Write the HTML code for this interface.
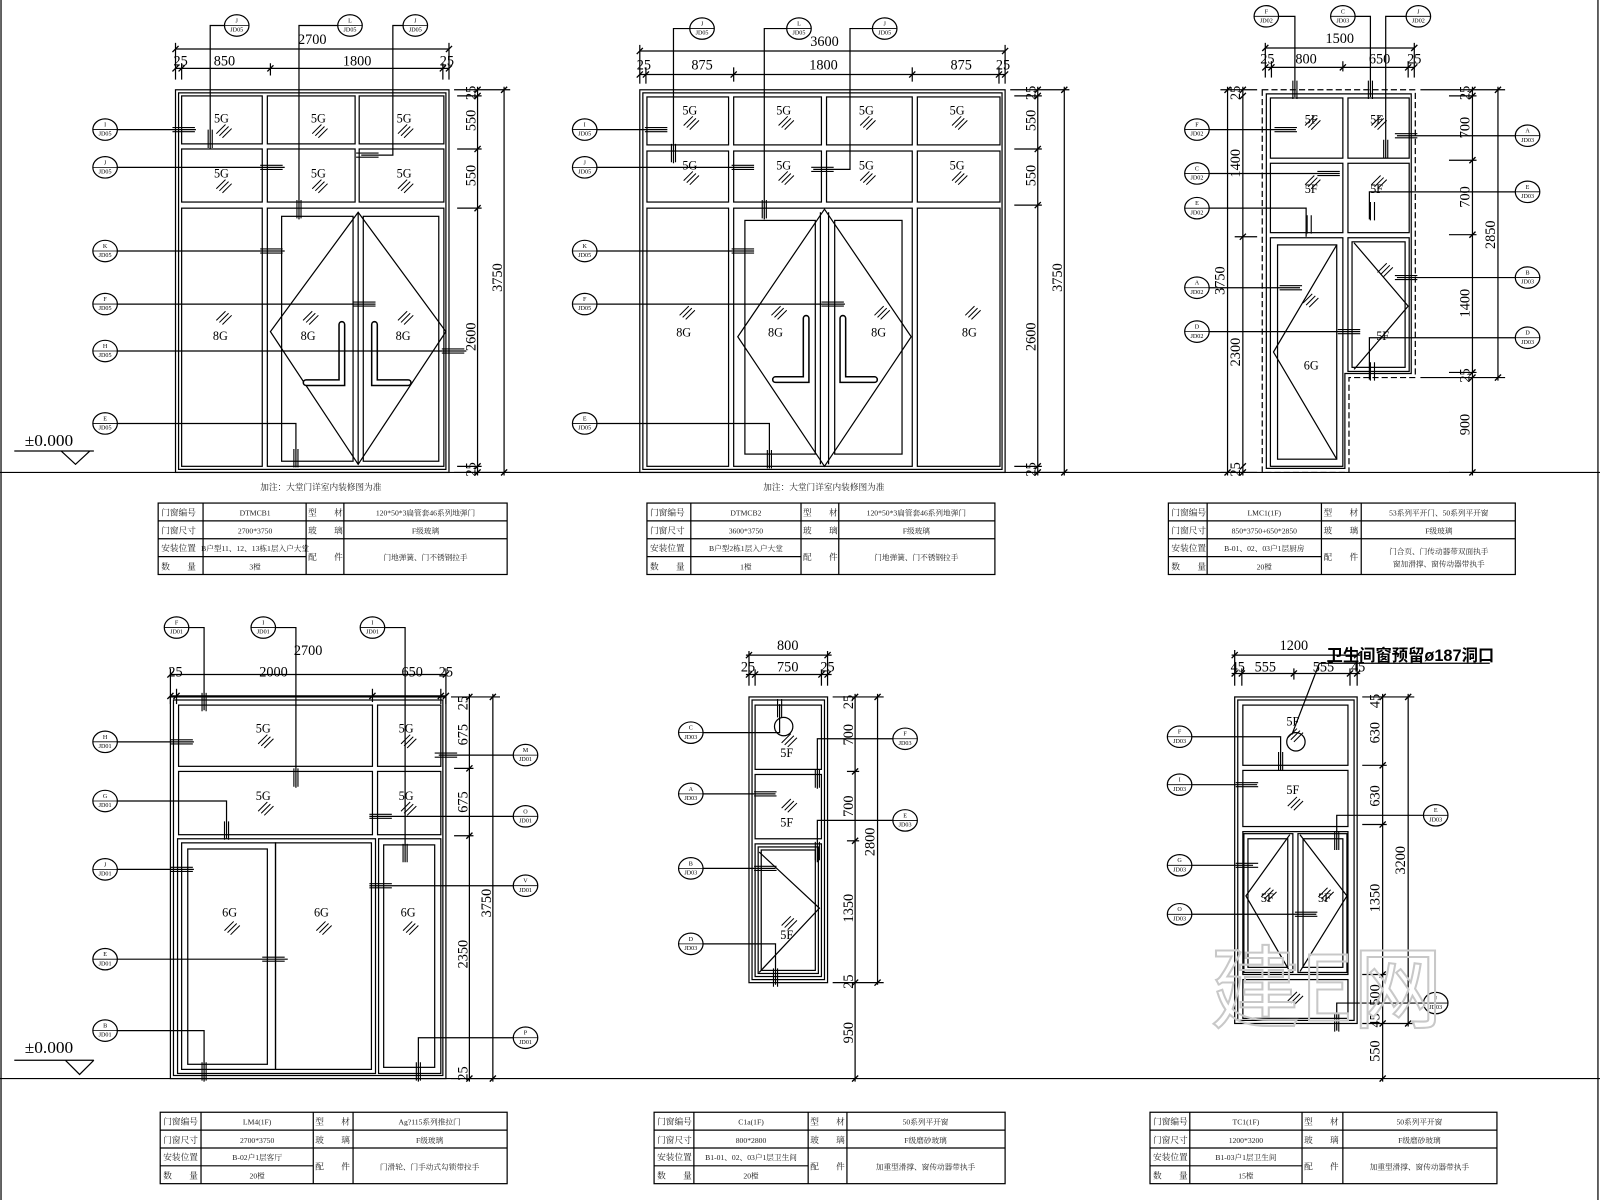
<!DOCTYPE html>
<html><head><meta charset="utf-8">
<style>
html,body{margin:0;padding:0;background:#fff;}
svg{display:block;}
.l{stroke:#000;stroke-width:1.2;fill:none;}
.d{font-family:"Liberation Serif","Noto Serif CJK SC",serif;font-size:14px;fill:#000;text-anchor:middle;}
.g{font-family:"Liberation Serif",serif;font-size:12px;fill:#000;text-anchor:middle;}
.b{font-family:"Liberation Serif",serif;font-size:6px;fill:#000;text-anchor:middle;}
.tb{font-family:"Liberation Serif","Noto Serif CJK SC",serif;font-size:7.5px;fill:#222;text-anchor:middle;}
.tl{font-family:"Liberation Serif","Noto Serif CJK SC",serif;font-size:8.5px;fill:#222;}
</style></head><body>
<svg width="1600" height="1200" viewBox="0 0 1568 1176" xmlns="http://www.w3.org/2000/svg">
<defs>
<g id="bb"><ellipse cx="0" cy="0" rx="12" ry="10.5" fill="#fff" stroke="#000" stroke-width="1.2"/><line x1="-12" y1="0" x2="12" y2="0" stroke="#000" stroke-width="0.8"/></g>
<g id="h" stroke="#000" stroke-width="1"><path d="M0 9 L9 0 M3 11 L12 2 M6 13 L15 4"/></g>
<g id="mh" stroke="#000" stroke-width="1.1"><path d="M-11 -2 H11 M-11 2 H11"/></g>
<g id="mv" stroke="#000" stroke-width="1.1"><path d="M-2 -9 V9 M2 -9 V9"/></g>
<g id="tk" stroke="#000" stroke-width="1.3"><path d="M-3 3 L3 -3"/></g>
</defs>
<rect width="1568" height="1176" fill="#fff"/>
<g class="l">
<line x1="1" y1="0" x2="1" y2="1176"/><line x1="1566" y1="0" x2="1566" y2="1176"/>
<line x1="0" y1="463" x2="1568" y2="463"/><line x1="0" y1="1057" x2="1568" y2="1057"/>
</g>

<!-- ================= DRAWING 1 ================= -->
<g class="l">
<rect x="172" y="88" width="268" height="375"/><rect x="175" y="91" width="262" height="369"/>
<rect x="178" y="94" width="79" height="47"/><rect x="262" y="94" width="86" height="47"/><rect x="352" y="94" width="83" height="47"/>
<rect x="178" y="146" width="79" height="52"/><rect x="262" y="146" width="86" height="52"/><rect x="352" y="146" width="83" height="52"/>
<rect x="178" y="204" width="79" height="253"/><rect x="262" y="204" width="173" height="253"/>
<rect x="276" y="212" width="70" height="240"/><rect x="356" y="212" width="74" height="240"/>
<line x1="351" y1="208" x2="351" y2="455"/>
<path d="M351 208 L265 325 L351 455 L437 325 Z"/>
</g>
<path d="M335 318 V375 H300 M367 318 V375 H400" stroke="#000" stroke-width="7" fill="none" stroke-linecap="round"/>
<path d="M335 318 V375 H300 M367 318 V375 H400" stroke="#fff" stroke-width="4" fill="none" stroke-linecap="round"/>
<text class="g" x="217" y="120">5G</text><text class="g" x="312" y="120">5G</text><text class="g" x="396" y="120">5G</text>
<text class="g" x="217" y="174">5G</text><text class="g" x="312" y="174">5G</text><text class="g" x="396" y="174">5G</text>
<text class="g" x="216" y="333">8G</text><text class="g" x="302" y="333">8G</text><text class="g" x="395" y="333">8G</text>
<use href="#h" x="212" y="122"/><use href="#h" x="306" y="122"/><use href="#h" x="390" y="122"/>
<use href="#h" x="212" y="176"/><use href="#h" x="306" y="176"/><use href="#h" x="390" y="176"/>
<use href="#h" x="212" y="305"/><use href="#h" x="297" y="305"/><use href="#h" x="390" y="305"/>
<g class="l">
<line x1="172" y1="48" x2="440" y2="48"/><line x1="172" y1="67" x2="440" y2="67"/>
<line x1="172" y1="42" x2="172" y2="78"/><line x1="178" y1="62" x2="178" y2="78"/><line x1="265" y1="62" x2="265" y2="74"/><line x1="434" y1="62" x2="434" y2="78"/><line x1="440" y1="42" x2="440" y2="78"/>
<line x1="468" y1="85" x2="468" y2="466"/><line x1="494" y1="85" x2="494" y2="466"/>
<line x1="445" y1="88" x2="500" y2="88"/><line x1="448" y1="94" x2="472" y2="94"/><line x1="448" y1="146" x2="472" y2="146"/><line x1="448" y1="204" x2="472" y2="204"/><line x1="448" y1="457" x2="472" y2="457"/><line x1="445" y1="463" x2="500" y2="463"/>
</g>
<use href="#tk" x="172" y="48"/><use href="#tk" x="440" y="48"/><use href="#tk" x="172" y="67"/><use href="#tk" x="178" y="67"/><use href="#tk" x="265" y="67"/><use href="#tk" x="434" y="67"/><use href="#tk" x="440" y="67"/>
<use href="#tk" x="468" y="88"/><use href="#tk" x="468" y="94"/><use href="#tk" x="468" y="146"/><use href="#tk" x="468" y="204"/><use href="#tk" x="468" y="457"/><use href="#tk" x="468" y="463"/><use href="#tk" x="494" y="88"/><use href="#tk" x="494" y="463"/>
<text class="d" x="306" y="43">2700</text><text class="d" x="177" y="64">25</text><text class="d" x="220" y="64">850</text><text class="d" x="350" y="64">1800</text><text class="d" x="438" y="64">25</text>
<text class="d" transform="rotate(-90 466 91)" x="466" y="91">25</text>
<text class="d" transform="rotate(-90 466 118)" x="466" y="118">550</text>
<text class="d" transform="rotate(-90 466 172)" x="466" y="172">550</text>
<text class="d" transform="rotate(-90 466 330)" x="466" y="330">2600</text>
<text class="d" transform="rotate(-90 466 460)" x="466" y="460">25</text>
<text class="d" transform="rotate(-90 492 272)" x="492" y="272">3750</text>
<g class="l">
<path d="M115 127 H192"/><path d="M115 164 H279"/><path d="M115 246 H279"/><path d="M115 298 H368"/><path d="M115 344 H457"/><path d="M115 415 H290 V458"/>
<path d="M220 25 H206 V146"/><path d="M331 25 H293 V215"/><path d="M395 25 H385 V152 H354"/>
</g>
<use href="#mh" x="180" y="127"/><use href="#mh" x="266" y="164"/><use href="#mh" x="266" y="246"/><use href="#mh" x="357" y="298"/><use href="#mh" x="444" y="344"/><use href="#mv" x="290" y="449"/>
<use href="#mv" x="206" y="136"/><use href="#mv" x="293" y="205"/><use href="#mh" x="360" y="152"/>
<use href="#bb" x="103" y="127"/><text class="b" x="103" y="124">I</text><text class="b" x="103" y="133">JD05</text>
<use href="#bb" x="103" y="164"/><text class="b" x="103" y="161">J</text><text class="b" x="103" y="170">JD05</text>
<use href="#bb" x="103" y="246"/><text class="b" x="103" y="243">K</text><text class="b" x="103" y="252">JD05</text>
<use href="#bb" x="103" y="298"/><text class="b" x="103" y="295">F</text><text class="b" x="103" y="304">JD05</text>
<use href="#bb" x="103" y="344"/><text class="b" x="103" y="341">H</text><text class="b" x="103" y="350">JD05</text>
<use href="#bb" x="103" y="415"/><text class="b" x="103" y="412">E</text><text class="b" x="103" y="421">JD05</text>
<use href="#bb" x="232" y="25"/><text class="b" x="232" y="22">J</text><text class="b" x="232" y="31">JD05</text>
<use href="#bb" x="343" y="25"/><text class="b" x="343" y="22">L</text><text class="b" x="343" y="31">JD05</text>
<use href="#bb" x="407" y="25"/><text class="b" x="407" y="22">J</text><text class="b" x="407" y="31">JD05</text>
<text class="d" x="48" y="437" style="font-size:17px">±0.000</text>
<path class="l" d="M14 442 H92 M60 442 L74 455 L88 442"/>
<text class="tl" x="255" y="480">加注：大堂门详室内装修图为准</text>
<g class="l"><rect x="155" y="493" width="342" height="70"/><path d="M155 510.5 H497 M155 528 H497 M155 545.5 H300 M199 493 V563 M300 493 V563 M337 493 V563 M300 528 H497"/></g>
<text class="tl" x="158" y="505">门窗编号</text><text class="tl" x="158" y="523">门窗尺寸</text><text class="tl" x="158" y="540">安装位置</text><text class="tl" x="158" y="558">数　　量</text>
<text class="tb" x="250" y="505">DTMCB1</text><text class="tb" x="250" y="523">2700*3750</text><text class="tb" x="250" y="540">B户型11、12、13栋1层入户大堂</text><text class="tb" x="250" y="558">3樘</text>
<text class="tl" x="302" y="505">型　　材</text><text class="tl" x="302" y="523">玻　　璃</text><text class="tl" x="302" y="549">配　　件</text>
<text class="tb" x="417" y="505">120*50*3扁管套46系列地弹门</text><text class="tb" x="417" y="523">F级玻璃</text><text class="tb" x="417" y="549">门地弹簧、门不锈钢拉手</text>

<!-- ================= DRAWING 2 ================= -->
<g class="l">
<rect x="627" y="88" width="358" height="375"/><rect x="630" y="91" width="352" height="369"/>
<rect x="634" y="95" width="80" height="47"/><rect x="719" y="95" width="86" height="47"/><rect x="810" y="95" width="84" height="47"/><rect x="899" y="95" width="81" height="47"/>
<rect x="634" y="148" width="80" height="50"/><rect x="719" y="148" width="86" height="50"/><rect x="810" y="148" width="84" height="50"/><rect x="899" y="148" width="81" height="50"/>
<rect x="634" y="204" width="80" height="253"/><rect x="719" y="204" width="175" height="253"/><rect x="899" y="204" width="81" height="253"/>
<rect x="730" y="216" width="69" height="229"/><rect x="818" y="216" width="66" height="229"/>
<line x1="804" y1="208" x2="804" y2="455"/><line x1="812" y1="208" x2="812" y2="455"/>
<path d="M808 205 L723 330 L808 457 L893 330 Z"/>
</g>
<path d="M790 312 V372 H760 M826 312 V372 H857" stroke="#000" stroke-width="7" fill="none" stroke-linecap="round"/>
<path d="M790 312 V372 H760 M826 312 V372 H857" stroke="#fff" stroke-width="4" fill="none" stroke-linecap="round"/>
<text class="g" x="676" y="112">5G</text><text class="g" x="768" y="112">5G</text><text class="g" x="849" y="112">5G</text><text class="g" x="938" y="112">5G</text>
<text class="g" x="676" y="166">5G</text><text class="g" x="768" y="166">5G</text><text class="g" x="849" y="166">5G</text><text class="g" x="938" y="166">5G</text>
<text class="g" x="670" y="330">8G</text><text class="g" x="760" y="330">8G</text><text class="g" x="861" y="330">8G</text><text class="g" x="950" y="330">8G</text>
<use href="#h" x="670" y="114"/><use href="#h" x="763" y="114"/><use href="#h" x="843" y="114"/><use href="#h" x="933" y="114"/>
<use href="#h" x="670" y="168"/><use href="#h" x="763" y="168"/><use href="#h" x="843" y="168"/><use href="#h" x="933" y="168"/>
<use href="#h" x="666" y="300"/><use href="#h" x="756" y="300"/><use href="#h" x="857" y="300"/><use href="#h" x="946" y="300"/>
<g class="l">
<line x1="627" y1="50" x2="985" y2="50"/><line x1="627" y1="73" x2="985" y2="73"/>
<line x1="627" y1="44" x2="627" y2="82"/><line x1="633" y1="66" x2="633" y2="82"/><line x1="719" y1="66" x2="719" y2="80"/><line x1="894" y1="66" x2="894" y2="80"/><line x1="979" y1="66" x2="979" y2="82"/><line x1="985" y1="44" x2="985" y2="82"/>
<line x1="1017" y1="85" x2="1017" y2="466"/><line x1="1043" y1="85" x2="1043" y2="466"/>
<line x1="990" y1="88" x2="1048" y2="88"/><line x1="994" y1="94" x2="1021" y2="94"/><line x1="994" y1="146" x2="1021" y2="146"/><line x1="994" y1="201" x2="1021" y2="201"/><line x1="994" y1="457" x2="1021" y2="457"/><line x1="990" y1="463" x2="1048" y2="463"/>
</g>
<use href="#tk" x="627" y="50"/><use href="#tk" x="985" y="50"/><use href="#tk" x="627" y="73"/><use href="#tk" x="633" y="73"/><use href="#tk" x="719" y="73"/><use href="#tk" x="894" y="73"/><use href="#tk" x="979" y="73"/><use href="#tk" x="985" y="73"/>
<use href="#tk" x="1017" y="88"/><use href="#tk" x="1017" y="94"/><use href="#tk" x="1017" y="146"/><use href="#tk" x="1017" y="201"/><use href="#tk" x="1017" y="457"/><use href="#tk" x="1017" y="463"/><use href="#tk" x="1043" y="88"/><use href="#tk" x="1043" y="463"/>
<text class="d" x="808" y="45">3600</text><text class="d" x="631" y="68">25</text><text class="d" x="688" y="68">875</text><text class="d" x="807" y="68">1800</text><text class="d" x="942" y="68">875</text><text class="d" x="983" y="68">25</text>
<text class="d" transform="rotate(-90 1015 91)" x="1015" y="91">25</text>
<text class="d" transform="rotate(-90 1015 118)" x="1015" y="118">550</text>
<text class="d" transform="rotate(-90 1015 172)" x="1015" y="172">550</text>
<text class="d" transform="rotate(-90 1015 330)" x="1015" y="330">2600</text>
<text class="d" transform="rotate(-90 1015 460)" x="1015" y="460">25</text>
<text class="d" transform="rotate(-90 1041 272)" x="1041" y="272">3750</text>
<g class="l">
<path d="M585 127 H654"/><path d="M585 164 H739"/><path d="M585 246 H739"/><path d="M585 298 H828"/><path d="M585 415 H754 V459"/>
<path d="M676 28 H660 V160"/><path d="M771 28 H749 V215"/><path d="M855 28 H833 V166 H797"/>
</g>
<use href="#mh" x="643" y="127"/><use href="#mh" x="728" y="164"/><use href="#mh" x="728" y="246"/><use href="#mh" x="816" y="298"/><use href="#mv" x="754" y="450"/>
<use href="#mv" x="660" y="150"/><use href="#mv" x="749" y="205"/><use href="#mh" x="806" y="166"/>
<use href="#bb" x="573" y="127"/><text class="b" x="573" y="124">I</text><text class="b" x="573" y="133">JD05</text>
<use href="#bb" x="573" y="164"/><text class="b" x="573" y="161">J</text><text class="b" x="573" y="170">JD05</text>
<use href="#bb" x="573" y="246"/><text class="b" x="573" y="243">K</text><text class="b" x="573" y="252">JD05</text>
<use href="#bb" x="573" y="298"/><text class="b" x="573" y="295">F</text><text class="b" x="573" y="304">JD05</text>
<use href="#bb" x="573" y="415"/><text class="b" x="573" y="412">E</text><text class="b" x="573" y="421">JD05</text>
<use href="#bb" x="688" y="28"/><text class="b" x="688" y="25">J</text><text class="b" x="688" y="34">JD05</text>
<use href="#bb" x="783" y="28"/><text class="b" x="783" y="25">L</text><text class="b" x="783" y="34">JD05</text>
<use href="#bb" x="867" y="28"/><text class="b" x="867" y="25">J</text><text class="b" x="867" y="34">JD05</text>
<text class="tl" x="748" y="480">加注：大堂门详室内装修图为准</text>
<g class="l"><rect x="634" y="493" width="341" height="70"/><path d="M634 510.5 H975 M634 528 H975 M634 545.5 H785 M677 493 V563 M785 493 V563 M822 493 V563 M785 528 H975"/></g>
<text class="tl" x="637" y="505">门窗编号</text><text class="tl" x="637" y="523">门窗尺寸</text><text class="tl" x="637" y="540">安装位置</text><text class="tl" x="637" y="558">数　　量</text>
<text class="tb" x="731" y="505">DTMCB2</text><text class="tb" x="731" y="523">3600*3750</text><text class="tb" x="731" y="540">B户型2栋1层入户大堂</text><text class="tb" x="731" y="558">1樘</text>
<text class="tl" x="787" y="505">型　　材</text><text class="tl" x="787" y="523">玻　　璃</text><text class="tl" x="787" y="549">配　　件</text>
<text class="tb" x="898" y="505">120*50*3扁管套46系列地弹门</text><text class="tb" x="898" y="523">F级玻璃</text><text class="tb" x="898" y="549">门地弹簧、门不锈钢拉手</text>

<!-- ================= DRAWING 3 ================= -->
<g class="l">
<path d="M1237 88 H1387 V370 H1322 V463 H1237 Z" stroke-dasharray="6 3"/>
<path d="M1241 92 H1383 V366 H1318 V459 H1241 Z"/>
<rect x="1245" y="96" width="71" height="59"/><rect x="1321" y="96" width="60" height="59"/>
<rect x="1245" y="160" width="71" height="68"/><rect x="1321" y="160" width="60" height="68"/>
<rect x="1245" y="233" width="71" height="224"/><rect x="1252" y="240" width="58" height="210"/>
<path d="M1310 240 L1248 345 L1310 450"/>
<rect x="1321" y="233" width="60" height="131"/><rect x="1325" y="237" width="52" height="123"/>
<path d="M1327 238 L1380 300 L1327 362"/>
</g>
<text class="g" x="1285" y="121">5F</text><text class="g" x="1349" y="121">5F</text><text class="g" x="1285" y="189">5F</text><text class="g" x="1349" y="189">5F</text>
<text class="g" x="1285" y="362">6G</text><text class="g" x="1355" y="333">5F</text>
<use href="#h" x="1279" y="114"/><use href="#h" x="1344" y="114"/><use href="#h" x="1279" y="172"/><use href="#h" x="1344" y="172"/><use href="#h" x="1277" y="288"/><use href="#h" x="1350" y="258"/>
<g class="l">
<line x1="1240" y1="47" x2="1386" y2="47"/><line x1="1240" y1="66" x2="1386" y2="66"/>
<line x1="1240" y1="42" x2="1240" y2="76"/><line x1="1246" y1="60" x2="1246" y2="76"/><line x1="1316" y1="60" x2="1316" y2="70"/><line x1="1380" y1="60" x2="1380" y2="76"/><line x1="1386" y1="42" x2="1386" y2="76"/>
<line x1="1203" y1="85" x2="1203" y2="466"/><line x1="1218" y1="85" x2="1218" y2="466"/>
<line x1="1196" y1="88" x2="1232" y2="88"/><line x1="1210" y1="232" x2="1232" y2="232"/><line x1="1196" y1="463" x2="1232" y2="463"/>
<line x1="1443" y1="85" x2="1443" y2="466"/><line x1="1468" y1="85" x2="1468" y2="373"/>
<line x1="1392" y1="88" x2="1475" y2="88"/><line x1="1420" y1="94" x2="1447" y2="94"/><line x1="1420" y1="157" x2="1447" y2="157"/><line x1="1420" y1="230" x2="1447" y2="230"/><line x1="1420" y1="365" x2="1447" y2="365"/><line x1="1392" y1="370" x2="1475" y2="370"/><line x1="1420" y1="463" x2="1447" y2="463"/>
</g>
<use href="#tk" x="1240" y="47"/><use href="#tk" x="1386" y="47"/><use href="#tk" x="1240" y="66"/><use href="#tk" x="1246" y="66"/><use href="#tk" x="1316" y="66"/><use href="#tk" x="1380" y="66"/><use href="#tk" x="1386" y="66"/>
<use href="#tk" x="1218" y="88"/><use href="#tk" x="1218" y="94"/><use href="#tk" x="1218" y="232"/><use href="#tk" x="1218" y="457"/><use href="#tk" x="1218" y="463"/><use href="#tk" x="1203" y="88"/><use href="#tk" x="1203" y="463"/>
<use href="#tk" x="1443" y="88"/><use href="#tk" x="1443" y="94"/><use href="#tk" x="1443" y="157"/><use href="#tk" x="1443" y="230"/><use href="#tk" x="1443" y="365"/><use href="#tk" x="1443" y="370"/><use href="#tk" x="1443" y="463"/><use href="#tk" x="1468" y="88"/><use href="#tk" x="1468" y="370"/>
<text class="d" x="1313" y="42">1500</text><text class="d" x="1242" y="62">25</text><text class="d" x="1280" y="62">800</text><text class="d" x="1352" y="62">650</text><text class="d" x="1386" y="62">25</text>
<text class="d" transform="rotate(-90 1215 91)" x="1215" y="91">25</text>
<text class="d" transform="rotate(-90 1215 160)" x="1215" y="160">1400</text>
<text class="d" transform="rotate(-90 1215 345)" x="1215" y="345">2300</text>
<text class="d" transform="rotate(-90 1215 460)" x="1215" y="460">25</text>
<text class="d" transform="rotate(-90 1200 275)" x="1200" y="275">3750</text>
<text class="d" transform="rotate(-90 1440 91)" x="1440" y="91">25</text>
<text class="d" transform="rotate(-90 1440 125)" x="1440" y="125">700</text>
<text class="d" transform="rotate(-90 1440 193)" x="1440" y="193">700</text>
<text class="d" transform="rotate(-90 1440 297)" x="1440" y="297">1400</text>
<text class="d" transform="rotate(-90 1440 368)" x="1440" y="368">25</text>
<text class="d" transform="rotate(-90 1440 416)" x="1440" y="416">900</text>
<text class="d" transform="rotate(-90 1465 230)" x="1465" y="230">2850</text>
<g class="l">
<path d="M1185 127 H1270"/><path d="M1185 170 H1313"/><path d="M1185 204 H1280 V232"/><path d="M1185 282 H1274"/><path d="M1185 325 H1333"/>
<path d="M1253 16 H1269 V95"/><path d="M1328 16 H1343 V95"/><path d="M1378 16 H1358 V155"/>
<path d="M1485 133 H1369"/><path d="M1485 188 H1342 V215"/><path d="M1485 272 H1369"/><path d="M1485 331 H1342 V372"/>
</g>
<use href="#mh" x="1260" y="127"/><use href="#mh" x="1302" y="170"/><use href="#mv" x="1283" y="220"/><use href="#mh" x="1265" y="282"/><use href="#mh" x="1322" y="325"/>
<use href="#mv" x="1269" y="88"/><use href="#mv" x="1343" y="88"/><use href="#mv" x="1358" y="146"/>
<use href="#mh" x="1378" y="133"/><use href="#mv" x="1345" y="207"/><use href="#mh" x="1378" y="272"/><use href="#mv" x="1345" y="364"/>
<use href="#bb" x="1173" y="127"/><text class="b" x="1173" y="124">F</text><text class="b" x="1173" y="133">JD02</text>
<use href="#bb" x="1173" y="170"/><text class="b" x="1173" y="167">C</text><text class="b" x="1173" y="176">JD02</text>
<use href="#bb" x="1173" y="204"/><text class="b" x="1173" y="201">E</text><text class="b" x="1173" y="210">JD02</text>
<use href="#bb" x="1173" y="282"/><text class="b" x="1173" y="279">A</text><text class="b" x="1173" y="288">JD02</text>
<use href="#bb" x="1173" y="325"/><text class="b" x="1173" y="322">D</text><text class="b" x="1173" y="331">JD02</text>
<use href="#bb" x="1241" y="16"/><text class="b" x="1241" y="13">F</text><text class="b" x="1241" y="22">JD02</text>
<use href="#bb" x="1316" y="16"/><text class="b" x="1316" y="13">C</text><text class="b" x="1316" y="22">JD03</text>
<use href="#bb" x="1390" y="16"/><text class="b" x="1390" y="13">J</text><text class="b" x="1390" y="22">JD02</text>
<use href="#bb" x="1497" y="133"/><text class="b" x="1497" y="130">A</text><text class="b" x="1497" y="139">JD03</text>
<use href="#bb" x="1497" y="188"/><text class="b" x="1497" y="185">E</text><text class="b" x="1497" y="194">JD03</text>
<use href="#bb" x="1497" y="272"/><text class="b" x="1497" y="269">B</text><text class="b" x="1497" y="278">JD03</text>
<use href="#bb" x="1497" y="331"/><text class="b" x="1497" y="328">D</text><text class="b" x="1497" y="337">JD03</text>
<g class="l"><rect x="1145" y="493" width="340" height="70"/><path d="M1145 510.5 H1485 M1145 528 H1485 M1145 545.5 H1295 M1183 493 V563 M1295 493 V563 M1334 493 V563 M1295 528 H1485"/></g>
<text class="tl" x="1148" y="505">门窗编号</text><text class="tl" x="1148" y="523">门窗尺寸</text><text class="tl" x="1148" y="540">安装位置</text><text class="tl" x="1148" y="558">数　　量</text>
<text class="tb" x="1239" y="505">LMC1(1F)</text><text class="tb" x="1239" y="523">850*3750+650*2850</text><text class="tb" x="1239" y="540">B-01、02、03户1层厨房</text><text class="tb" x="1239" y="558">20樘</text>
<text class="tl" x="1297" y="505">型　　材</text><text class="tl" x="1297" y="523">玻　　璃</text><text class="tl" x="1297" y="549">配　　件</text>
<text class="tb" x="1410" y="505">53系列平开门、50系列平开窗</text><text class="tb" x="1410" y="523">F级玻璃</text><text class="tb" x="1410" y="543">门合页、门传动器带双面执手</text><text class="tb" x="1410" y="555">窗加滑撑、窗传动器带执手</text>

<!-- ================= DRAWING 4 ================= -->
<g class="l">
<rect x="167" y="683" width="270" height="374"/><rect x="170" y="686" width="264" height="368"/>
<rect x="175" y="691" width="190" height="60"/><rect x="370" y="691" width="62" height="60"/>
<rect x="175" y="756" width="190" height="62"/><rect x="370" y="756" width="62" height="62"/>
<rect x="174" y="822" width="194" height="230"/><rect x="371" y="822" width="61" height="230"/>
<rect x="178" y="826" width="92" height="222"/><rect x="184" y="832" width="78" height="211"/>
<rect x="270" y="826" width="94" height="222"/><rect x="376" y="828" width="50" height="218"/>
</g>
<text class="g" x="258" y="718">5G</text><text class="g" x="398" y="718">5G</text><text class="g" x="258" y="784">5G</text><text class="g" x="398" y="784">5G</text>
<text class="g" x="225" y="898">6G</text><text class="g" x="315" y="898">6G</text><text class="g" x="400" y="898">6G</text>
<use href="#h" x="253" y="720"/><use href="#h" x="393" y="720"/><use href="#h" x="253" y="786"/><use href="#h" x="393" y="786"/>
<use href="#h" x="220" y="903"/><use href="#h" x="310" y="903"/><use href="#h" x="395" y="903"/>
<g class="l">
<line x1="167" y1="661" x2="437" y2="661"/><line x1="167" y1="682" x2="437" y2="682"/>
<line x1="167" y1="655" x2="167" y2="690"/><line x1="173" y1="675" x2="173" y2="690"/><line x1="365" y1="675" x2="365" y2="688"/><line x1="432" y1="675" x2="432" y2="690"/><line x1="437" y1="655" x2="437" y2="690"/>
<line x1="460" y1="680" x2="460" y2="1060"/><line x1="483" y1="680" x2="483" y2="1060"/>
<line x1="442" y1="683" x2="490" y2="683"/><line x1="445" y1="753" x2="464" y2="753"/><line x1="445" y1="819" x2="464" y2="819"/><line x1="442" y1="1057" x2="490" y2="1057"/>
</g>
<use href="#tk" x="167" y="661"/><use href="#tk" x="437" y="661"/><use href="#tk" x="167" y="682"/><use href="#tk" x="173" y="682"/><use href="#tk" x="365" y="682"/><use href="#tk" x="432" y="682"/><use href="#tk" x="437" y="682"/>
<use href="#tk" x="460" y="683"/><use href="#tk" x="460" y="753"/><use href="#tk" x="460" y="819"/><use href="#tk" x="460" y="1057"/><use href="#tk" x="483" y="683"/><use href="#tk" x="483" y="1057"/>
<text class="d" x="302" y="642">2700</text><text class="d" x="172" y="663">25</text><text class="d" x="268" y="663">2000</text><text class="d" x="404" y="663">650</text><text class="d" x="437" y="663">25</text>
<text class="d" transform="rotate(-90 458 689)" x="458" y="689">25</text>
<text class="d" transform="rotate(-90 458 720)" x="458" y="720">675</text>
<text class="d" transform="rotate(-90 458 786)" x="458" y="786">675</text>
<text class="d" transform="rotate(-90 458 935)" x="458" y="935">2350</text>
<text class="d" transform="rotate(-90 458 1052)" x="458" y="1052">25</text>
<text class="d" transform="rotate(-90 481 885)" x="481" y="885">3750</text>
<g class="l">
<path d="M115 727 H190"/><path d="M115 785 H222 V822"/><path d="M115 852 H190"/><path d="M115 940 H282"/><path d="M115 1010 H200 V1060"/>
<path d="M185 615 H200 V696"/><path d="M270 615 H290 V772"/><path d="M377 615 H397 V845"/>
<path d="M503 740 H430"/><path d="M503 800 H362"/><path d="M503 868 H362"/><path d="M503 1017 H410 V1060"/>
</g>
<use href="#mh" x="178" y="727"/><use href="#mv" x="222" y="814"/><use href="#mh" x="178" y="852"/><use href="#mh" x="268" y="940"/><use href="#mv" x="200" y="1050"/>
<use href="#mv" x="200" y="688"/><use href="#mv" x="290" y="762"/><use href="#mv" x="397" y="836"/>
<use href="#mh" x="437" y="740"/><use href="#mh" x="373" y="800"/><use href="#mh" x="373" y="868"/><use href="#mv" x="410" y="1050"/>
<use href="#bb" x="103" y="727"/><text class="b" x="103" y="724">H</text><text class="b" x="103" y="733">JD01</text>
<use href="#bb" x="103" y="785"/><text class="b" x="103" y="782">G</text><text class="b" x="103" y="791">JD01</text>
<use href="#bb" x="103" y="852"/><text class="b" x="103" y="849">J</text><text class="b" x="103" y="858">JD01</text>
<use href="#bb" x="103" y="940"/><text class="b" x="103" y="937">E</text><text class="b" x="103" y="946">JD01</text>
<use href="#bb" x="103" y="1010"/><text class="b" x="103" y="1007">B</text><text class="b" x="103" y="1016">JD01</text>
<use href="#bb" x="173" y="615"/><text class="b" x="173" y="612">F</text><text class="b" x="173" y="621">JD01</text>
<use href="#bb" x="258" y="615"/><text class="b" x="258" y="612">I</text><text class="b" x="258" y="621">JD01</text>
<use href="#bb" x="365" y="615"/><text class="b" x="365" y="612">I</text><text class="b" x="365" y="621">JD01</text>
<use href="#bb" x="515" y="740"/><text class="b" x="515" y="737">M</text><text class="b" x="515" y="746">JD01</text>
<use href="#bb" x="515" y="800"/><text class="b" x="515" y="797">O</text><text class="b" x="515" y="806">JD01</text>
<use href="#bb" x="515" y="868"/><text class="b" x="515" y="865">V</text><text class="b" x="515" y="874">JD01</text>
<use href="#bb" x="515" y="1017"/><text class="b" x="515" y="1014">P</text><text class="b" x="515" y="1023">JD01</text>
<text class="d" x="48" y="1032" style="font-size:17px">±0.000</text>
<path class="l" d="M14 1039 H92 M64 1039 L78 1053 L92 1039"/>
<g class="l"><rect x="157" y="1090" width="340" height="70"/><path d="M157 1107.5 H497 M157 1125 H497 M157 1142.5 H307 M197 1090 V1160 M307 1090 V1160 M346 1090 V1160 M307 1125 H497"/></g>
<text class="tl" x="160" y="1102">门窗编号</text><text class="tl" x="160" y="1120">门窗尺寸</text><text class="tl" x="160" y="1137">安装位置</text><text class="tl" x="160" y="1155">数　　量</text>
<text class="tb" x="252" y="1102">LM4(1F)</text><text class="tb" x="252" y="1120">2700*3750</text><text class="tb" x="252" y="1137">B-02户1层客厅</text><text class="tb" x="252" y="1155">20樘</text>
<text class="tl" x="309" y="1102">型　　材</text><text class="tl" x="309" y="1120">玻　　璃</text><text class="tl" x="309" y="1146">配　　件</text>
<text class="tb" x="421" y="1102">Ag?115系列推拉门</text><text class="tb" x="421" y="1120">F级玻璃</text><text class="tb" x="421" y="1146">门滑轮、门手动式勾锁带拉手</text>

<!-- ================= DRAWING 5 ================= -->
<g class="l">
<rect x="734" y="683" width="77" height="280"/><rect x="737" y="686" width="71" height="274"/>
<rect x="740" y="691" width="65" height="63"/><rect x="740" y="759" width="65" height="63"/>
<rect x="740" y="827" width="65" height="130"/><rect x="743" y="830" width="59" height="124"/><rect x="746" y="833" width="53" height="118"/>
<path d="M744 835 L803 890 L744 953"/>
<circle cx="768" cy="712" r="9"/>
</g>
<text class="g" x="771" y="742">5F</text><text class="g" x="771" y="810">5F</text><text class="g" x="771" y="920">5F</text>
<use href="#h" x="766" y="719"/><use href="#h" x="766" y="783"/><use href="#h" x="766" y="898"/>
<g class="l">
<line x1="731" y1="642" x2="815" y2="642"/><line x1="731" y1="661" x2="815" y2="661"/>
<line x1="734" y1="638" x2="734" y2="672"/><line x1="740" y1="656" x2="740" y2="672"/><line x1="805" y1="656" x2="805" y2="672"/><line x1="811" y1="638" x2="811" y2="672"/>
<line x1="838" y1="680" x2="838" y2="1060"/><line x1="860" y1="680" x2="860" y2="965"/>
<line x1="816" y1="683" x2="866" y2="683"/><line x1="830" y1="756" x2="842" y2="756"/><line x1="830" y1="824" x2="842" y2="824"/><line x1="816" y1="963" x2="866" y2="963"/>
</g>
<use href="#tk" x="734" y="642"/><use href="#tk" x="811" y="642"/><use href="#tk" x="734" y="661"/><use href="#tk" x="740" y="661"/><use href="#tk" x="805" y="661"/><use href="#tk" x="811" y="661"/>
<use href="#tk" x="838" y="683"/><use href="#tk" x="838" y="756"/><use href="#tk" x="838" y="824"/><use href="#tk" x="838" y="963"/><use href="#tk" x="838" y="1057"/><use href="#tk" x="860" y="683"/><use href="#tk" x="860" y="963"/>
<text class="d" x="772" y="637">800</text><text class="d" x="733" y="658">25</text><text class="d" x="772" y="658">750</text><text class="d" x="811" y="658">25</text>
<text class="d" transform="rotate(-90 836 688)" x="836" y="688">25</text>
<text class="d" transform="rotate(-90 836 720)" x="836" y="720">700</text>
<text class="d" transform="rotate(-90 836 790)" x="836" y="790">700</text>
<text class="d" transform="rotate(-90 836 890)" x="836" y="890">1350</text>
<text class="d" transform="rotate(-90 836 962)" x="836" y="962">25</text>
<text class="d" transform="rotate(-90 836 1012)" x="836" y="1012">950</text>
<text class="d" transform="rotate(-90 857 825)" x="857" y="825">2800</text>
<g class="l">
<path d="M689 718 H764 V690"/><path d="M689 778 H760"/><path d="M689 851 H760"/><path d="M689 925 H760 V965"/>
<path d="M875 724 H801 V773"/><path d="M875 804 H801 V845"/>
</g>
<use href="#mv" x="764" y="694"/><use href="#mh" x="750" y="778"/><use href="#mh" x="750" y="851"/><use href="#mv" x="760" y="958"/>
<use href="#mv" x="801" y="763"/><use href="#mv" x="801" y="834"/>
<use href="#bb" x="677" y="718"/><text class="b" x="677" y="715">C</text><text class="b" x="677" y="724">JD03</text>
<use href="#bb" x="677" y="778"/><text class="b" x="677" y="775">A</text><text class="b" x="677" y="784">JD03</text>
<use href="#bb" x="677" y="851"/><text class="b" x="677" y="848">B</text><text class="b" x="677" y="857">JD03</text>
<use href="#bb" x="677" y="925"/><text class="b" x="677" y="922">D</text><text class="b" x="677" y="931">JD03</text>
<use href="#bb" x="887" y="724"/><text class="b" x="887" y="721">F</text><text class="b" x="887" y="730">JD03</text>
<use href="#bb" x="887" y="804"/><text class="b" x="887" y="801">E</text><text class="b" x="887" y="810">JD03</text>
<g class="l"><rect x="641" y="1090" width="344" height="70"/><path d="M641 1107.5 H985 M641 1125 H985 M641 1142.5 H792 M680 1090 V1160 M792 1090 V1160 M830 1090 V1160 M792 1125 H985"/></g>
<text class="tl" x="644" y="1102">门窗编号</text><text class="tl" x="644" y="1120">门窗尺寸</text><text class="tl" x="644" y="1137">安装位置</text><text class="tl" x="644" y="1155">数　　量</text>
<text class="tb" x="736" y="1102">C1a(1F)</text><text class="tb" x="736" y="1120">800*2800</text><text class="tb" x="736" y="1137">B1-01、02、03户1层卫生间</text><text class="tb" x="736" y="1155">20樘</text>
<text class="tl" x="794" y="1102">型　　材</text><text class="tl" x="794" y="1120">玻　　璃</text><text class="tl" x="794" y="1146">配　　件</text>
<text class="tb" x="907" y="1102">50系列平开窗</text><text class="tb" x="907" y="1120">F级磨砂玻璃</text><text class="tb" x="907" y="1146">加重型滑撑、窗传动器带执手</text>

<!-- ================= DRAWING 6 ================= -->
<g class="l">
<rect x="1210" y="683" width="120" height="320"/><rect x="1213" y="686" width="114" height="314"/>
<rect x="1218" y="691" width="103" height="59"/><rect x="1218" y="755" width="103" height="55"/>
<rect x="1218" y="815" width="103" height="140"/>
<rect x="1219" y="817" width="48" height="136"/><rect x="1223" y="822" width="39" height="126"/>
<rect x="1272" y="817" width="48" height="136"/><rect x="1277" y="822" width="39" height="126"/>
<path d="M1264 818 L1221 878 L1264 952 M1274 818 L1320 878 L1274 952"/>
<rect x="1218" y="960" width="103" height="38"/>
<circle cx="1270" cy="727" r="9"/>
<path d="M1266 720 L1293 650 M1293 650 H1460"/>
</g>
<text class="g" x="1267" y="711">5F</text><text class="g" x="1267" y="778">5F</text><text class="g" x="1242" y="884">5F</text><text class="g" x="1298" y="884">5F</text>
<use href="#h" x="1262" y="714"/><use href="#h" x="1262" y="781"/><use href="#h" x="1236" y="870"/><use href="#h" x="1292" y="870"/><use href="#h" x="1262" y="972"/>
<text x="1300" y="648" style="font-family:'Liberation Sans','Noto Sans CJK SC',sans-serif;font-size:16px;font-weight:bold;fill:#000">卫生间窗预留ø187洞口</text>
<g class="l">
<line x1="1207" y1="642" x2="1333" y2="642"/><line x1="1207" y1="660" x2="1333" y2="660"/>
<line x1="1210" y1="637" x2="1210" y2="672"/><line x1="1217" y1="655" x2="1217" y2="672"/><line x1="1268" y1="655" x2="1268" y2="666"/><line x1="1323" y1="655" x2="1323" y2="672"/><line x1="1330" y1="637" x2="1330" y2="672"/>
<line x1="1355" y1="680" x2="1355" y2="1060"/><line x1="1380" y1="680" x2="1380" y2="1006"/>
<line x1="1335" y1="683" x2="1386" y2="683"/><line x1="1335" y1="750" x2="1359" y2="750"/><line x1="1335" y1="808" x2="1359" y2="808"/><line x1="1335" y1="955" x2="1359" y2="955"/><line x1="1335" y1="1003" x2="1386" y2="1003"/>
</g>
<use href="#tk" x="1210" y="642"/><use href="#tk" x="1330" y="642"/><use href="#tk" x="1210" y="660"/><use href="#tk" x="1217" y="660"/><use href="#tk" x="1268" y="660"/><use href="#tk" x="1323" y="660"/><use href="#tk" x="1330" y="660"/>
<use href="#tk" x="1355" y="683"/><use href="#tk" x="1355" y="750"/><use href="#tk" x="1355" y="808"/><use href="#tk" x="1355" y="955"/><use href="#tk" x="1355" y="1003"/><use href="#tk" x="1355" y="1057"/><use href="#tk" x="1380" y="683"/><use href="#tk" x="1380" y="1003"/>
<text class="d" x="1268" y="637">1200</text><text class="d" x="1213" y="658">45</text><text class="d" x="1240" y="658">555</text><text class="d" x="1297" y="658">555</text><text class="d" x="1331" y="658">45</text>
<text class="d" transform="rotate(-90 1352 687)" x="1352" y="687">45</text>
<text class="d" transform="rotate(-90 1352 718)" x="1352" y="718">630</text>
<text class="d" transform="rotate(-90 1352 780)" x="1352" y="780">630</text>
<text class="d" transform="rotate(-90 1352 880)" x="1352" y="880">1350</text>
<text class="d" transform="rotate(-90 1352 975)" x="1352" y="975">500</text>
<text class="d" transform="rotate(-90 1352 1000)" x="1352" y="1000">45</text>
<text class="d" transform="rotate(-90 1352 1030)" x="1352" y="1030">550</text>
<text class="d" transform="rotate(-90 1377 843)" x="1377" y="843">3200</text>
<g class="l">
<path d="M1168 722 H1255 V755"/><path d="M1168 769 H1232"/><path d="M1168 848 H1228"/><path d="M1168 896 H1290"/>
<path d="M1395 799 H1310 V833"/><path d="M1395 983 H1310 V1010"/>
</g>
<use href="#mv" x="1255" y="746"/><use href="#mh" x="1222" y="769"/><use href="#mh" x="1222" y="848"/><use href="#mh" x="1280" y="896"/>
<use href="#mv" x="1310" y="824"/><use href="#mv" x="1310" y="1002"/>
<use href="#bb" x="1156" y="722"/><text class="b" x="1156" y="719">F</text><text class="b" x="1156" y="728">JD03</text>
<use href="#bb" x="1156" y="769"/><text class="b" x="1156" y="766">I</text><text class="b" x="1156" y="775">JD03</text>
<use href="#bb" x="1156" y="848"/><text class="b" x="1156" y="845">G</text><text class="b" x="1156" y="854">JD03</text>
<use href="#bb" x="1156" y="896"/><text class="b" x="1156" y="893">O</text><text class="b" x="1156" y="902">JD03</text>
<use href="#bb" x="1407" y="799"/><text class="b" x="1407" y="796">E</text><text class="b" x="1407" y="805">JD03</text>
<use href="#bb" x="1407" y="983"/><text class="b" x="1407" y="980">J</text><text class="b" x="1407" y="989">JD03</text>
<text x="1186" y="1000" style="font-family:'Noto Sans CJK SC',sans-serif;font-size:88px;fill:none;stroke:#c8c8c8;stroke-width:2">建E网</text>
<g class="l"><rect x="1127" y="1090" width="340" height="70"/><path d="M1127 1107.5 H1467 M1127 1125 H1467 M1127 1142.5 H1276 M1166 1090 V1160 M1276 1090 V1160 M1316 1090 V1160 M1276 1125 H1467"/></g>
<text class="tl" x="1130" y="1102">门窗编号</text><text class="tl" x="1130" y="1120">门窗尺寸</text><text class="tl" x="1130" y="1137">安装位置</text><text class="tl" x="1130" y="1155">数　　量</text>
<text class="tb" x="1221" y="1102">TC1(1F)</text><text class="tb" x="1221" y="1120">1200*3200</text><text class="tb" x="1221" y="1137">B1-03户1层卫生间</text><text class="tb" x="1221" y="1155">15樘</text>
<text class="tl" x="1278" y="1102">型　　材</text><text class="tl" x="1278" y="1120">玻　　璃</text><text class="tl" x="1278" y="1146">配　　件</text>
<text class="tb" x="1391" y="1102">50系列平开窗</text><text class="tb" x="1391" y="1120">F级磨砂玻璃</text><text class="tb" x="1391" y="1146">加重型滑撑、窗传动器带执手</text>
</svg>
</body></html>
